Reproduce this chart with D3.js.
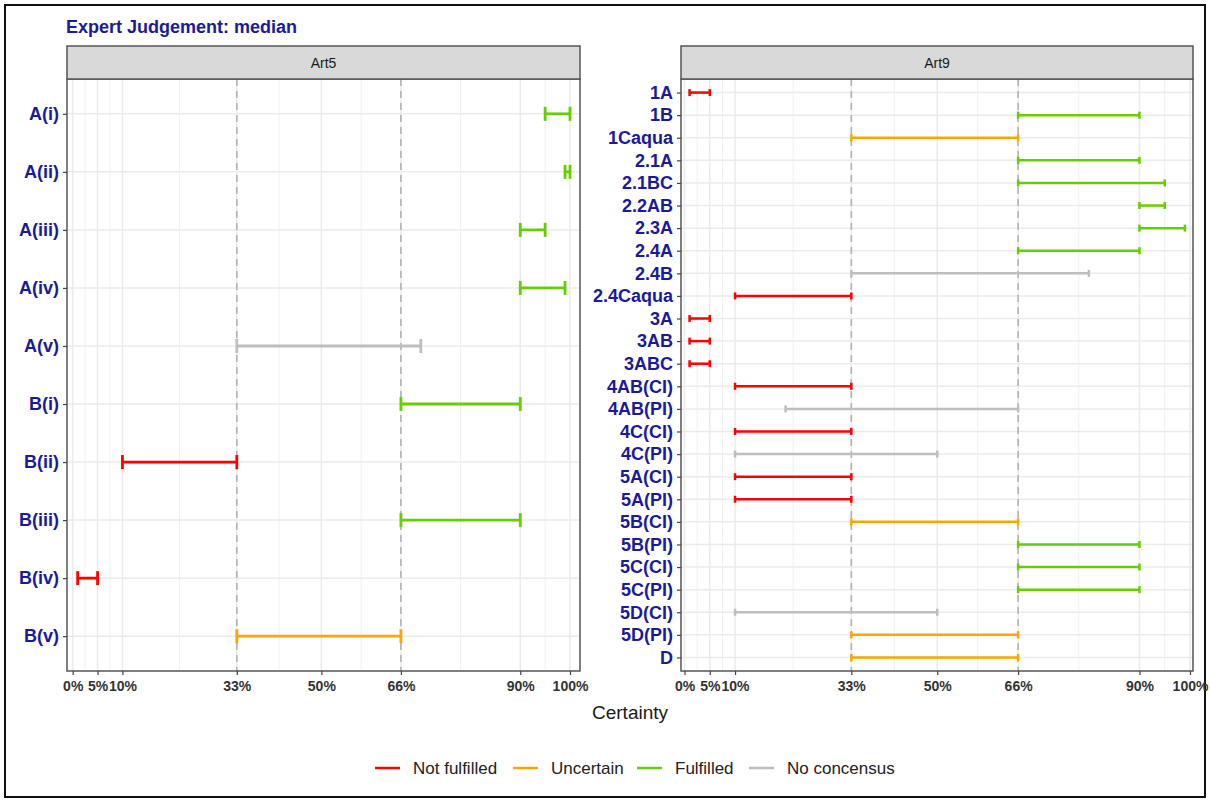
<!DOCTYPE html>
<html>
<head>
<meta charset="utf-8">
<script src="https://cdn.jsdelivr.net/npm/d3@7"></script>
<style>
  html, body { margin: 0; padding: 0; background: #fff; }
  svg { display: block; font-family: "Liberation Sans", Arial, sans-serif; }
</style>
</head>
<body>
<svg id="chart" width="1210" height="801"></svg>
<script>
// Certainty intervals per criterion, expressed as fractions
const tickValues = [0, 0.05, 0.10, 0.33, 0.50, 0.66, 0.90, 1.00];
const statusNames = ["Not fulfilled", "Uncertain", "Fulfilled", "No concensus"];
const statusColors = ["#ff0000", "#ffa500", "#66cd00", "#bebebe"];

const art5Cats = ["A(i)", "A(ii)", "A(iii)", "A(iv)", "A(v)", "B(i)", "B(ii)", "B(iii)", "B(iv)", "B(v)"];
const art5Low  = [0.95, 0.99, 0.90, 0.90, 0.33, 0.66, 0.10, 0.66, 0.01, 0.33];
const art5High = [1.00, 1.00, 0.95, 0.99, 0.70, 0.90, 0.33, 0.90, 0.05, 0.66];
const art5Status = ["Fulfilled", "Fulfilled", "Fulfilled", "Fulfilled", "No concensus",
                    "Fulfilled", "Not fulfilled", "Fulfilled", "Not fulfilled", "Uncertain"];

const art9Cats = ["1A", "1B", "1Caqua", "2.1A", "2.1BC", "2.2AB", "2.3A", "2.4A", "2.4B", "2.4Caqua",
                  "3A", "3AB", "3ABC", "4AB(CI)", "4AB(PI)", "4C(CI)", "4C(PI)", "5A(CI)", "5A(PI)",
                  "5B(CI)", "5B(PI)", "5C(CI)", "5C(PI)", "5D(CI)", "5D(PI)", "D"];
const art9Low  = [0.01, 0.66, 0.33, 0.66, 0.66, 0.90, 0.90, 0.66, 0.33, 0.10,
                  0.01, 0.01, 0.01, 0.10, 0.20, 0.10, 0.10, 0.10, 0.10,
                  0.33, 0.66, 0.66, 0.66, 0.10, 0.33, 0.33];
const art9High = [0.05, 0.90, 0.66, 0.90, 0.95, 0.95, 0.99, 0.90, 0.80, 0.33,
                  0.05, 0.05, 0.05, 0.33, 0.66, 0.33, 0.50, 0.33, 0.33,
                  0.66, 0.90, 0.90, 0.90, 0.50, 0.66, 0.66];
const art9Status = ["Not fulfilled", "Fulfilled", "Uncertain", "Fulfilled", "Fulfilled", "Fulfilled",
                    "Fulfilled", "Fulfilled", "No concensus", "Not fulfilled",
                    "Not fulfilled", "Not fulfilled", "Not fulfilled", "Not fulfilled", "No concensus",
                    "Not fulfilled", "No concensus", "Not fulfilled", "Not fulfilled",
                    "Uncertain", "Fulfilled", "Fulfilled", "Fulfilled", "No concensus", "Uncertain", "Uncertain"];

const navy = "#1a1a9a";
const color = d3.scaleOrdinal().domain(statusNames).range(statusColors);

// minor gridlines sit halfway between neighbouring breaks
const minorValues = d3.pairs(tickValues).map(([a, b]) => (a + b) / 2);

const svg = d3.select("#chart");

// outer frame
svg.append("rect")
  .attr("x", 5).attr("y", 5).attr("width", 1200).attr("height", 792)
  .attr("fill", "none").attr("stroke", "#111").attr("stroke-width", 2);

svg.append("text")
  .attr("x", 66).attr("y", 33)
  .attr("font-size", 18).attr("font-weight", "bold").attr("fill", navy)
  .text("Expert Judgement: median");

const panelTop = 79, panelBottom = 671, stripTop = 46;

function drawPanel(opts) {
  const { name, left, right, x0, x100, cats, low, high, status, capH, lw } = opts;
  const g = svg.append("g");

  const x = d3.scaleLinear().domain([0, 1]).range([x0, x100]);
  const y = d3.scalePoint().domain(cats).range([panelTop, panelBottom]).padding(0.6);

  // panel background and grid
  g.append("rect").attr("x", left).attr("y", panelTop)
    .attr("width", right - left).attr("height", panelBottom - panelTop).attr("fill", "#fff");

  g.selectAll(".minor").data(minorValues).join("line")
    .attr("x1", d => x(d)).attr("x2", d => x(d))
    .attr("y1", panelTop).attr("y2", panelBottom)
    .attr("stroke", "#f0f0f0").attr("stroke-width", 1);
  g.selectAll(".major").data(tickValues).join("line")
    .attr("x1", d => x(d)).attr("x2", d => x(d))
    .attr("y1", panelTop).attr("y2", panelBottom)
    .attr("stroke", "#ebebeb").attr("stroke-width", 1.5);
  g.selectAll(".hgrid").data(cats).join("line")
    .attr("x1", left).attr("x2", right)
    .attr("y1", d => y(d)).attr("y2", d => y(d))
    .attr("stroke", "#ebebeb").attr("stroke-width", 1.5);

  // threshold lines at 33% and 66%
  g.selectAll(".thr").data([0.33, 0.66]).join("line")
    .attr("x1", d => x(d)).attr("x2", d => x(d))
    .attr("y1", panelTop).attr("y2", panelBottom)
    .attr("stroke", "#b3b3b3").attr("stroke-width", 1.6)
    .attr("stroke-dasharray", "7,5");

  // error bars
  const rows = cats.map((c, i) => ({ c, lo: low[i], hi: high[i], s: status[i] }));
  const bars = g.selectAll(".bar").data(rows).join("g")
    .attr("stroke", d => color(d.s)).attr("stroke-width", lw);
  bars.append("line")
    .attr("x1", d => x(d.lo)).attr("x2", d => x(d.hi))
    .attr("y1", d => y(d.c)).attr("y2", d => y(d.c));
  bars.append("line")
    .attr("x1", d => x(d.lo)).attr("x2", d => x(d.lo))
    .attr("y1", d => y(d.c) - capH / 2).attr("y2", d => y(d.c) + capH / 2);
  bars.append("line")
    .attr("x1", d => x(d.hi)).attr("x2", d => x(d.hi))
    .attr("y1", d => y(d.c) - capH / 2).attr("y2", d => y(d.c) + capH / 2);

  // panel border
  g.append("rect").attr("x", left).attr("y", panelTop)
    .attr("width", right - left).attr("height", panelBottom - panelTop)
    .attr("fill", "none").attr("stroke", "#555").attr("stroke-width", 1.5);

  // strip
  g.append("rect").attr("x", left).attr("y", stripTop)
    .attr("width", right - left).attr("height", panelTop - stripTop)
    .attr("fill", "#d9d9d9").attr("stroke", "#555").attr("stroke-width", 1.5);
  g.append("text")
    .attr("x", (left + right) / 2).attr("y", (stripTop + panelTop) / 2 + 5)
    .attr("text-anchor", "middle").attr("font-size", 14).attr("fill", "#1a1a1a")
    .text(name);

  // x axis
  const xAxis = g.append("g").attr("transform", `translate(0,${panelBottom})`)
    .call(d3.axisBottom(x).tickValues(tickValues).tickFormat(d3.format(".0%")).tickSize(4).tickPadding(6));
  xAxis.select(".domain").remove();
  xAxis.selectAll("line").attr("stroke", "#444").attr("stroke-width", 1.2);
  xAxis.selectAll("text").attr("font-size", 14).attr("font-weight", "bold")
    .attr("fill", "#333").attr("font-family", "Liberation Sans, Arial, sans-serif");

  // y axis
  const yAxis = g.append("g").attr("transform", `translate(${left},0)`)
    .call(d3.axisLeft(y).tickSize(4).tickPadding(4));
  yAxis.select(".domain").remove();
  yAxis.selectAll("line").attr("stroke", "#444").attr("stroke-width", 1.2);
  yAxis.selectAll("text").attr("font-size", 18).attr("font-weight", "bold")
    .attr("fill", navy).attr("font-family", "Liberation Sans, Arial, sans-serif");
}

drawPanel({ name: "Art5", left: 67, right: 580, x0: 72.7, x100: 570,
  cats: art5Cats, low: art5Low, high: art5High, status: art5Status, capH: 14, lw: 2.8 });
drawPanel({ name: "Art9", left: 681, right: 1193, x0: 684.5, x100: 1190,
  cats: art9Cats, low: art9Low, high: art9High, status: art9Status, capH: 7, lw: 2.5 });

// x axis title
svg.append("text")
  .attr("x", 630).attr("y", 719).attr("text-anchor", "middle")
  .attr("font-size", 19).attr("fill", "#1a1a1a")
  .text("Certainty");

// legend
const legendX = [375, 513, 637, 749];
const legend = svg.append("g").selectAll("g").data(statusNames).join("g")
  .attr("transform", (d, i) => `translate(${legendX[i]},768)`);
legend.append("line")
  .attr("x1", 0).attr("x2", 25).attr("y1", 0).attr("y2", 0)
  .attr("stroke", d => color(d)).attr("stroke-width", 2.5);
legend.append("text")
  .attr("x", 38).attr("y", 6).attr("font-size", 17).attr("fill", "#222")
  .text(d => d);
</script>
</body>
</html>
